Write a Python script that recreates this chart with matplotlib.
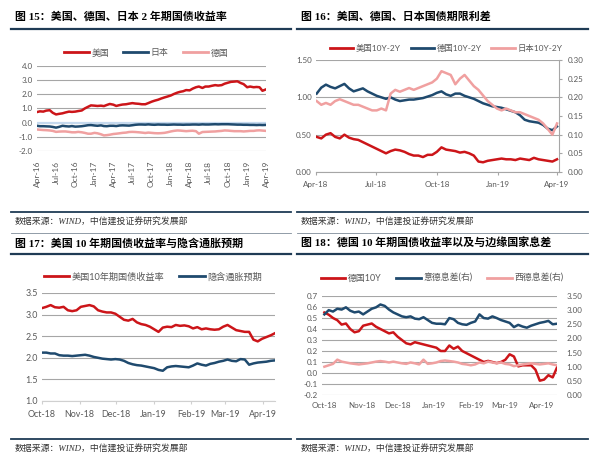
import matplotlib
matplotlib.use('Agg')
import matplotlib.pyplot as plt
import matplotlib.dates as mdates
import matplotlib.ticker as mticker
from matplotlib.lines import Line2D
import pandas as pd

plt.rcParams['font.family'] = ['Lato', 'Noto Sans CJK SC', 'DejaVu Sans']
plt.rcParams['axes.unicode_minus'] = False

# ---------------- data ----------------
# Panel 15: 2Y yields, semi-monthly Apr-2016 .. Apr-2019
p1_start, p1_end = '2016-04-01', '2019-04-01'
us_2y = [0.75, 0.80, 0.78, 0.85, 0.88, 0.70, 0.58, 0.62, 0.66, 0.72, 0.78, 0.76, 0.78, 0.82, 0.86, 1.00, 1.12, 1.22,
         1.20, 1.18, 1.20, 1.17, 1.25, 1.32, 1.27, 1.18, 1.24, 1.28, 1.30, 1.34, 1.38, 1.35, 1.33, 1.30, 1.30, 1.38,
         1.48, 1.55, 1.62, 1.70, 1.78, 1.84,
         1.92, 2.02, 2.12, 2.18, 2.22, 2.30, 2.28, 2.40, 2.50, 2.55, 2.45, 2.55, 2.55, 2.60, 2.65, 2.62, 2.65, 2.75,
         2.82, 2.88, 2.90, 2.92, 2.80, 2.72,
         2.50, 2.55, 2.50, 2.52, 2.50, 2.25, 2.35]
jp_2y = [-0.22, -0.25, -0.25, -0.26, -0.27, -0.30, -0.35, -0.30, -0.22, -0.25, -0.27, -0.24, -0.28, -0.27, -0.25, -0.22, -0.18, -0.17,
         -0.20, -0.22, -0.19, -0.24, -0.25, -0.22, -0.22, -0.24, -0.20, -0.19, -0.20, -0.21, -0.18, -0.15, -0.13, -0.13, -0.14, -0.12,
         -0.14, -0.15, -0.13, -0.14, -0.14, -0.15,
         -0.14, -0.13, -0.14, -0.14, -0.15, -0.14, -0.14, -0.13, -0.13, -0.14, -0.12, -0.13, -0.13, -0.12, -0.11, -0.12, -0.11, -0.11,
         -0.11, -0.12, -0.13, -0.14, -0.14, -0.15,
         -0.15, -0.16, -0.16, -0.17, -0.16, -0.17, -0.16]
de_2y = [-0.48, -0.50, -0.52, -0.53, -0.55, -0.58, -0.65, -0.63, -0.62, -0.62, -0.65, -0.68, -0.68, -0.65, -0.68, -0.72, -0.78, -0.78,
         -0.72, -0.75, -0.82, -0.90, -0.88, -0.85, -0.80, -0.78, -0.75, -0.72, -0.70, -0.66, -0.65, -0.66, -0.68, -0.70, -0.73, -0.70,
         -0.72, -0.74, -0.75, -0.74, -0.72, -0.68,
         -0.62, -0.58, -0.55, -0.56, -0.58, -0.60, -0.58, -0.57, -0.60, -0.78, -0.66, -0.65, -0.64, -0.63, -0.62, -0.60, -0.58, -0.55,
         -0.56, -0.58, -0.60, -0.60, -0.60, -0.62,
         -0.60, -0.58, -0.58, -0.55, -0.54, -0.56, -0.58]
p1_labels = ['美国', '日本', '德国']

# Panel 16: term spreads, weekly Apr-2018 .. Apr-2019
p2_start, p2_end = '2018-04-02', '2019-04-01'
us_spread = [0.47, 0.45, 0.50, 0.52, 0.47, 0.45, 0.50, 0.46, 0.44, 0.43, 0.40, 0.37, 0.34,
             0.31, 0.28, 0.25, 0.28, 0.30, 0.29, 0.27, 0.24, 0.22, 0.22, 0.20, 0.23, 0.23,
             0.27, 0.33, 0.30, 0.29, 0.28, 0.26, 0.27, 0.25, 0.22, 0.14, 0.13, 0.15, 0.16, 0.17,
             0.18, 0.17, 0.17, 0.16, 0.18, 0.17, 0.16, 0.19, 0.17, 0.16, 0.15, 0.14, 0.17]
de_spread = [1.05, 1.13, 1.17, 1.14, 1.12, 1.15, 1.18, 1.12, 1.08, 1.10, 1.12, 1.08, 1.05,
             1.02, 1.00, 0.98, 1.00, 0.97, 0.95, 0.96, 0.97, 0.97, 0.98, 0.99, 1.01, 1.03,
             1.06, 1.08, 1.04, 1.02, 1.05, 1.05, 1.02, 1.00, 0.98, 0.95, 0.92, 0.90, 0.88, 0.87,
             0.86, 0.84, 0.82, 0.80, 0.76, 0.70, 0.68, 0.67, 0.66, 0.63, 0.58, 0.56, 0.61]
jp_spread = [0.190, 0.180, 0.185, 0.180, 0.190, 0.195, 0.190, 0.185, 0.180, 0.180, 0.175, 0.170, 0.165,
             0.165, 0.170, 0.165, 0.210, 0.220, 0.215, 0.220, 0.225, 0.220, 0.225, 0.230, 0.235, 0.240,
             0.250, 0.270, 0.265, 0.260, 0.235, 0.250, 0.260, 0.245, 0.230, 0.220, 0.205, 0.190, 0.180, 0.170,
             0.165, 0.170, 0.165, 0.160, 0.160, 0.155, 0.150, 0.145, 0.140, 0.130, 0.115, 0.100, 0.130]
p2_labels = ['美国10Y-2Y', '德国10Y-2Y', '日本10Y-2Y']

# Panel 17: US 10Y vs breakeven, Oct-2018 .. Apr-2019
p3_start, p3_end = '2018-10-01', '2019-04-11'
us_10y = [3.15, 3.18, 3.22, 3.17, 3.16, 3.18, 3.10, 3.08, 3.10, 3.18, 3.20, 3.22, 3.19, 3.10, 3.07,
          3.05, 3.05, 3.02, 2.95, 2.88, 2.86, 2.90, 2.82, 2.78, 2.76, 2.72, 2.66, 2.60, 2.70, 2.72,
          2.71, 2.76, 2.74, 2.75, 2.73, 2.68, 2.71, 2.66, 2.68, 2.66, 2.65, 2.66, 2.72, 2.76, 2.70,
          2.64, 2.62, 2.60, 2.60, 2.42, 2.38, 2.44, 2.48, 2.52, 2.57]
breakeven = [2.12, 2.12, 2.10, 2.10, 2.06, 2.05, 2.05, 2.04, 2.05, 2.06, 2.07, 2.05, 2.02, 2.00, 1.98,
             1.97, 1.96, 1.97, 1.96, 1.93, 1.88, 1.85, 1.83, 1.82, 1.80, 1.78, 1.76, 1.72, 1.70, 1.78,
             1.80, 1.81, 1.80, 1.79, 1.78, 1.82, 1.87, 1.84, 1.82, 1.86, 1.88, 1.91, 1.93, 1.96, 1.93,
             1.92, 1.97, 1.96, 1.84, 1.87, 1.89, 1.90, 1.91, 1.93, 1.94]
p3_labels = ['美国10年期国债收益率', '隐含通胀预期']

# Panel 18: German 10Y and peripheral spreads, Oct-2018 .. Apr-2019
p4_start, p4_end = '2018-10-01', '2019-04-14'
de_10y = [0.55, 0.53, 0.50, 0.48, 0.44, 0.45, 0.40, 0.37, 0.38, 0.43, 0.44, 0.45, 0.42, 0.40, 0.38,
          0.36, 0.37, 0.33, 0.30, 0.27, 0.26, 0.28, 0.27, 0.26, 0.25, 0.24, 0.23, 0.20, 0.20, 0.25,
          0.22, 0.24, 0.20, 0.18, 0.16, 0.14, 0.12, 0.10, 0.11, 0.10, 0.09, 0.10, 0.12, 0.17, 0.15,
          0.06, 0.07, 0.07, 0.07, 0.03, -0.07, -0.06, -0.02, -0.04, 0.05]
it_de = [2.85, 3.00, 2.95, 3.05, 3.02, 3.10, 2.98, 2.92, 2.95, 2.85, 2.95, 3.05, 3.10, 3.20, 3.15,
         3.02, 2.92, 2.85, 2.78, 2.75, 2.78, 2.70, 2.68, 2.75, 2.65, 2.55, 2.52, 2.52, 2.50, 2.72,
         2.68, 2.55, 2.50, 2.48, 2.55, 2.60, 2.85, 2.72, 2.70, 2.78, 2.72, 2.65, 2.60, 2.55, 2.40,
         2.48, 2.42, 2.38, 2.45, 2.50, 2.55, 2.58, 2.62, 2.50, 2.52]
es_de = [1.00, 1.05, 1.10, 1.25, 1.18, 1.15, 1.12, 1.10, 1.08, 1.10, 1.12, 1.15, 1.18, 1.20, 1.18,
         1.15, 1.18, 1.15, 1.12, 1.10, 1.15, 1.12, 1.08, 1.25, 1.10, 1.12, 1.15, 1.20, 1.22, 1.20,
         1.18, 1.15, 1.10, 1.08, 1.05, 1.08, 1.15, 1.12, 1.18, 1.15, 1.12, 1.15, 1.10, 1.08, 1.02,
         1.05, 1.08, 1.10, 1.12, 1.10, 1.08, 1.10, 1.12, 1.08, 1.05]
p4_labels = ['德国10Y', '意德息差(右)', '西德息差(右)']

titles = ['图 15：美国、德国、日本 2 年期国债收益率',
          '图 16：美国、德国、日本国债期限利差',
          '图 17：美国 10 年期国债收益率与隐含通胀预期',
          '图 18：德国 10 年期国债收益率以及与边缘国家息差']
source = '数据来源：WIND，中信建投证券研究发展部'

# ---------------- style ----------------
RED = '#CC1519'
NAVY = '#1F4A6E'
PINK = '#F0A0A0'
GRID = '#A6A6A6'
TICK = '#595959'
RULE = '#1F3B55'
LW = 1.8

W, H = 600, 459
fig = plt.figure(figsize=(6, 4.59), dpi=100)
fig.patch.set_facecolor('white')


def fx(x):
    return x / W


def fy(y):
    return 1 - y / H


def ax_px(x0, y0, x1, y1):
    return fig.add_axes([x0 / W, 1 - y1 / H, (x1 - x0) / W, (y1 - y0) / H])


def hline(x0, x1, y, lw=1.6, color=RULE):
    fig.add_artist(Line2D([fx(x0), fx(x1)], [fy(y), fy(y)], transform=fig.transFigure,
                          color=color, lw=lw))


def frame(x0, x1, ytitle, yrule, ybottom, ysrc, title):
    fig.text(fx(x0 + 4), fy(ytitle), title, fontsize=7.9, fontweight='bold', color='black',
             family=['Liberation Serif', 'Noto Sans CJK SC'], va='center', ha='left')
    hline(x0, x1, yrule)
    hline(x0, x1, ybottom, lw=1.3)
    fig.text(fx(x0 + 4), fy(ysrc), source, fontsize=6.4, style='italic', color='#333333',
             family=['Liberation Serif', 'Noto Sans CJK SC'], va='center', ha='left')


frame(11, 291, 17, 29, 212, 222, titles[0])
frame(297, 588, 17, 29, 212, 222, titles[1])
frame(11, 291, 243, 254, 439, 449, titles[2])
frame(297, 588, 243, 254, 439, 449, titles[3])
hline(11, 291, 233, lw=0.6, color='#7F8C99')
hline(297, 588, 233, lw=0.6, color='#7F8C99')


def style_ax(ax, fs=5.8):
    for s in ax.spines.values():
        s.set_visible(False)
    ax.tick_params(axis='both', labelsize=fs, colors=TICK, length=0, pad=3)
    ax.set_facecolor('none')


def legend(ax, handles, labels, cx, cy, fs=6.0, colsp=1.4):
    leg = ax.legend(handles, labels, loc='center', bbox_to_anchor=(fx(cx), fy(cy)),
                    bbox_transform=fig.transFigure, ncol=len(labels), frameon=False,
                    fontsize=fs, handlelength=2.8, handletextpad=0.3, columnspacing=colsp,
                    borderpad=0, borderaxespad=0)
    for t in leg.get_texts():
        t.set_color(TICK)
    return leg


def h(color):
    return Line2D([], [], color=color, lw=2.0)


# ---------------- panel 15 ----------------
d1 = pd.date_range(p1_start, p1_end, freq='SMS')
ax1 = ax_px(37, 66, 266, 151)
style_ax(ax1)
ax1.set_ylim(-2, 4)
ax1.set_yticks([-2, -1, 0, 1, 2, 3, 4])
ax1.yaxis.set_major_formatter(mticker.FormatStrFormatter('%.1f'))
ax1.grid(axis='y', color=GRID, lw=0.8)
ax1.set_axisbelow(True)
ax1.axhline(0, color='#C5D9EE', lw=1.6, zorder=1)
ax1.plot(d1, us_2y, color=RED, lw=LW, zorder=3)
ax1.plot(d1, jp_2y, color=NAVY, lw=LW, zorder=3)
ax1.plot(d1, de_2y, color=PINK, lw=LW, zorder=2)
ax1.set_xlim(d1[0], d1[-1])
ax1.xaxis.set_major_locator(mdates.MonthLocator(bymonth=[1, 4, 7, 10]))
ax1.xaxis.set_major_formatter(mdates.DateFormatter('%b-%y'))
ax1.tick_params(axis='x', rotation=90, pad=7, labelsize=6.0)
legend(ax1, [h(RED), h(NAVY), h(PINK)], p1_labels, 146, 53, fs=6.4, colsp=1.6)

# ---------------- panel 16 ----------------
d2 = pd.date_range(p2_start, p2_end, freq='7D')
ax2 = ax_px(316, 60, 559, 172)
style_ax(ax2, fs=5.8)
ax2.set_ylim(0, 1.5)
ax2.set_yticks([0, 0.5, 1.0, 1.5])
ax2.yaxis.set_major_formatter(mticker.FormatStrFormatter('%.2f'))
ax2.grid(axis='y', color=GRID, lw=0.8)
ax2.set_axisbelow(True)
ax2.spines['bottom'].set_visible(True)
ax2.spines['bottom'].set_color(GRID)
ax2.plot(d2, us_spread, color=RED, lw=LW)
ax2.plot(d2, de_spread, color=NAVY, lw=LW)
ax2.set_xlim(pd.Timestamp('2018-04-01'), pd.Timestamp('2019-04-04'))
ax2.xaxis.set_major_locator(mdates.MonthLocator(bymonth=[1, 4, 7, 10]))
ax2.xaxis.set_major_formatter(mdates.DateFormatter('%b-%y'))
ax2.tick_params(axis='x', length=2.5, color=GRID, pad=4)
ax2r = ax2.twinx()
style_ax(ax2r, fs=5.8)
ax2r.spines['right'].set_visible(True)
ax2r.spines['right'].set_color(GRID)
ax2r.set_ylim(0, 0.3)
ax2r.set_yticks([0, 0.05, 0.10, 0.15, 0.20, 0.25, 0.30])
ax2r.yaxis.set_major_formatter(mticker.FormatStrFormatter('%.2f'))
ax2r.tick_params(axis='y', length=2.5, color=GRID, pad=4)
ax2r.plot(d2, jp_spread, color=PINK, lw=LW)
legend(ax2r, [h(RED), h(NAVY), h(PINK)], p2_labels, 446, 48, fs=6.0, colsp=1.2)

# ---------------- panel 17 ----------------
d3 = pd.date_range(p3_start, p3_end, periods=len(us_10y))
ax3 = ax_px(42, 293, 275, 401)
style_ax(ax3, fs=6.4)
ax3.set_ylim(1.0, 3.5)
ax3.set_yticks([1.0, 1.5, 2.0, 2.5, 3.0, 3.5])
ax3.yaxis.set_major_formatter(mticker.FormatStrFormatter('%.1f'))
ax3.grid(axis='y', color=GRID, lw=0.8)
ax3.set_axisbelow(True)
ax3.spines['bottom'].set_visible(True)
ax3.spines['bottom'].set_color('#D0D0D0')
ax3.plot(d3, us_10y, color=RED, lw=LW)
ax3.plot(d3, breakeven, color=NAVY, lw=LW)
ax3.set_xlim(d3[0], d3[-1])
ax3.xaxis.set_major_locator(mdates.MonthLocator())
ax3.xaxis.set_major_formatter(mdates.DateFormatter('%b-%y'))
ax3.tick_params(axis='x', length=2.5, color='#D0D0D0', pad=4)
legend(ax3, [h(RED), h(NAVY)], p3_labels, 153, 277, fs=6.6, colsp=1.6)

# ---------------- panel 18 ----------------
d4 = pd.date_range(p4_start, p4_end, periods=len(de_10y))
ax4 = ax_px(322, 296, 557, 395)
style_ax(ax4, fs=5.8)
ax4.set_ylim(-0.2, 0.7)
ax4.set_yticks([-0.2, -0.1, 0, 0.1, 0.2, 0.3, 0.4, 0.5, 0.6, 0.7])
ax4.yaxis.set_major_formatter(mticker.FormatStrFormatter('%.1f'))
ax4.grid(axis='y', color=GRID, lw=0.8)
ax4.set_axisbelow(True)
ax4.plot(d4, de_10y, color=RED, lw=LW)
ax4.set_xlim(pd.Timestamp('2018-09-29'), d4[-1])
ax4.xaxis.set_major_locator(mdates.MonthLocator())
ax4.xaxis.set_major_formatter(mdates.DateFormatter('%b-%y'))
ax4.tick_params(axis='x', pad=5)
ax4r = ax4.twinx()
style_ax(ax4r, fs=5.8)
ax4r.set_ylim(0, 3.5)
ax4r.set_yticks([0, 0.5, 1.0, 1.5, 2.0, 2.5, 3.0, 3.5])
ax4r.yaxis.set_major_formatter(mticker.FormatStrFormatter('%.2f'))
ax4r.tick_params(axis='y', pad=7)
ax4r.plot(d4, it_de, color=NAVY, lw=LW)
ax4r.plot(d4, es_de, color=PINK, lw=LW)
legend(ax4r, [h(RED), h(NAVY), h(PINK)], p4_labels, 442, 278, fs=6.4, colsp=1.6)

fig.savefig('out.png', dpi=100, facecolor='white')
